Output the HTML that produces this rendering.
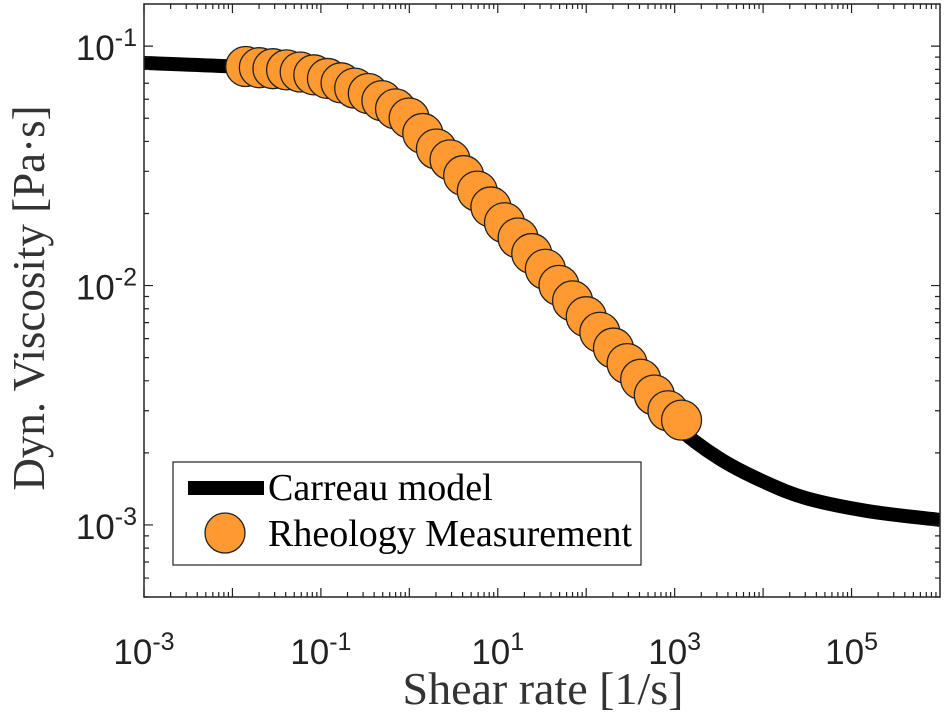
<!DOCTYPE html>
<html><head><meta charset="utf-8"><style>
body{margin:0;background:#fff}
svg text{font-family:"Liberation Sans",sans-serif}
</style></head><body>
<svg id="chart" width="945" height="723" viewBox="0 0 945 723">
<g id="marks"></g>
<g id="axes"></g>
<text x="543" y="704" font-size="46" text-anchor="middle" fill="#333" style="font-family:'Liberation Serif',serif">Shear rate [1/s]</text>
<text transform="translate(44,298) rotate(-90)" font-size="45" text-anchor="middle" fill="#333" style="font-family:'Liberation Serif',serif">Dyn. Viscosity [Pa·s]</text>
<g>
<rect x="173" y="462" width="468" height="103" fill="#fff" stroke="#222" stroke-width="1.2"/>
<line x1="188" y1="488" x2="264" y2="488" stroke="#000" stroke-width="14"/>
<text x="268" y="500" font-size="38" fill="#000" style="font-family:'Liberation Serif',serif">Carreau model</text>
<circle cx="225" cy="533" r="20" fill="#FF9A33" stroke="#222" stroke-width="1.3"/>
<text x="268" y="546" font-size="38" fill="#000" style="font-family:'Liberation Serif',serif">Rheology Measurement</text>
</g>
</svg>
<script>
const curveLogX=[-3,-2,-1.5,-1,-0.5,0,0.4,1,1.5,2,2.5,3,3.5,4,4.5,5.2,6];
const curveY=[0.0851,0.0822,0.0794,0.0724,0.0617,0.0468,0.0324,0.0180,0.01104,0.00676,0.00415,0.00262,0.00190,0.00152,0.00129,0.00114,0.00105];
const measLogX=[-1.85,-1.696,-1.542,-1.388,-1.234,-1.08,-0.926,-0.772,-0.618,-0.464,-0.31,-0.156,-0.002,0.152,0.306,0.46,0.614,0.768,0.922,1.076,1.23,1.384,1.538,1.692,1.846,2.0,2.154,2.308,2.462,2.616,2.77,2.924,3.078];
const measY=[0.0822,0.0813,0.0805,0.0796,0.0780,0.0759,0.0733,0.0703,0.0668,0.0634,0.0592,0.0547,0.0501,0.0432,0.0372,0.0335,0.0288,0.0248,0.0213,0.0183,0.0158,0.0136,0.0117,0.01002,0.00863,0.00741,0.00638,0.00548,0.00472,0.00406,0.00349,0.00300,0.00274];
const xTickExp=[-3,-1,1,3,5];
const yTickExp=[-3,-2,-1];
const L=144,R=940,T=4,B=597;
const xMin=-3,xMax=6,yMin=Math.log10(5e-4),yMax=Math.log10(0.15);
const sx=l=>L+(l-xMin)/(xMax-xMin)*(R-L);
const sy=v=>T+(yMax-Math.log10(v))/(yMax-yMin)*(B-T);
const syl=l=>T+(yMax-l)/(yMax-yMin)*(B-T);
const NS="http://www.w3.org/2000/svg";
const marks=document.getElementById('marks'),axes=document.getElementById('axes');
function mk(t,a,p){const e=document.createElementNS(NS,t);for(const k in a)e.setAttribute(k,a[k]);p.appendChild(e);return e;}
const clip=mk('clipPath',{id:'cp'},marks);mk('rect',{x:L,y:T,width:R-L,height:B-T},clip);
const P=curveLogX.map((l,i)=>[sx(l),sy(curveY[i])]);
let d='M'+P[0][0]+','+P[0][1];
for(let i=0;i<P.length-1;i++){const p0=P[Math.max(0,i-1)],p1=P[i],p2=P[i+1],p3=P[Math.min(P.length-1,i+2)];
const c1=[p1[0]+(p2[0]-p0[0])/6,p1[1]+(p2[1]-p0[1])/6],c2=[p2[0]-(p3[0]-p1[0])/6,p2[1]-(p3[1]-p1[1])/6];
d+=`C${c1[0].toFixed(1)},${c1[1].toFixed(1)} ${c2[0].toFixed(1)},${c2[1].toFixed(1)} ${p2[0].toFixed(1)},${p2[1].toFixed(1)}`;}
const line=mk('path',{d:d,fill:'none',stroke:'#000','stroke-width':14,'clip-path':'url(#cp)'},marks);


measLogX.forEach((l,i)=>{const c=mk('circle',{cx:sx(l),cy:sy(measY[i]),r:20,fill:'#FF9A33',stroke:'#222','stroke-width':1.3},marks);

});
const frame=mk('rect',{x:L,y:T,width:R-L,height:B-T,fill:'none',stroke:'#222','stroke-width':1.5},axes);


let td='';
for(let e=-3;e<6;e++)for(let m=1;m<10;m++){const x=sx(e+Math.log10(m));const len=m==1?9:5;td+=`M${x},${B}v${-len}M${x},${T}v${len}`;}
for(let e=-4;e<0;e++)for(let m=1;m<10;m++){const l=e+Math.log10(m);if(l<yMin||l>yMax)continue;const y=syl(l);const len=m==1?9:5;td+=`M${L},${y}h${len}M${R},${y}h${-len}`;}
const ticks=mk('path',{d:td,stroke:'#222','stroke-width':1.2,fill:'none'},axes);


xTickExp.forEach(e=>{const t=mk('text',{x:sx(e),y:664,'font-size':35,'text-anchor':'middle',fill:'#222'},axes);
t.innerHTML='10<tspan dy="-14" font-size="25">'+e+'</tspan>';

});
yTickExp.forEach(e=>{const t=mk('text',{x:137,y:syl(e)+14,'font-size':35,'text-anchor':'end',fill:'#222'},axes);
t.innerHTML='10<tspan dy="-14" font-size="25">'+e+'</tspan>';

});
</script>
</body></html>
